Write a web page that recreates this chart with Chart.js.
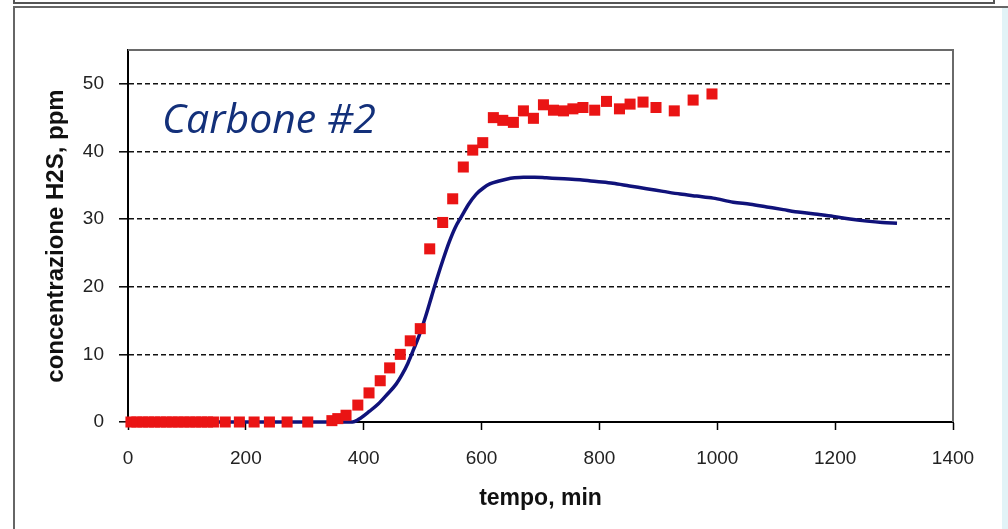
<!DOCTYPE html>
<html>
<head>
<meta charset="utf-8">
<script src="https://cdn.jsdelivr.net/npm/chart.js@4"></script>
<style>
  html,body{margin:0;padding:0;background:#fff;}
  #wrap{position:relative;width:1008px;height:529px;overflow:hidden;background:#fff;}
  .topbox{position:absolute;left:13px;top:-10px;width:978px;height:10px;border:2px solid #555;}
  .box{position:absolute;left:13px;top:6px;width:1000px;height:600px;border-left:2px solid #666;border-top:2px solid #666;}
  .strip{position:absolute;left:1002px;top:8px;width:6px;height:521px;background:#e2f3f7;}
  .label{position:absolute;left:162px;top:89px;line-height:1;font:italic 41px "Open Sans",sans-serif;color:#13307a;white-space:nowrap;}
  canvas{position:absolute;left:0;top:0;}
</style>
</head>
<body>
<div id="wrap">
  <div class="topbox"></div>
  <div class="box"></div>
  <div class="strip"></div>
  <canvas id="chart" width="1008" height="529"></canvas>
  <div class="label">Carbone #2</div>
</div>
<script>
// --- Data ---
// misure (quadrati rossi)
const tempoMisure = [5,15,25,35,45,55,65,75,85,95,105,115,125,135,145,
  165,189,214,240,270,305,346,356,370,390,409,428,444,462,479,496,
  512,534,551,569,585,602,620,636,654,671,688,705,722,739,755,772,
  792,812,834,852,874,896,927,959,991];
const h2sMisure = [0,0,0,0,0,0,0,0,0,0,0,0,0,0,0,
  0,0,0,0,0,0,0.2,0.5,1.0,2.5,4.3,6.1,8.0,10.0,12.0,13.8,
  25.6,29.5,33.0,37.7,40.2,41.3,45.0,44.6,44.3,46.0,44.9,46.9,46.1,46.0,46.3,46.5,
  46.1,47.4,46.3,47.0,47.3,46.5,46.0,47.6,48.5];
// modello (linea blu)
const tempoModello = [0,100,200,300,360,381,395,410,425,440,455,465,475,485,495,505,515,525,535,545,
  555,566,578,591,603,614,628,642,656,671,690,710,740,767,795,823,851,880,908,937,
  965,993,1027,1056,1084,1112,1141,1170,1197,1225,1254,1280,1305];
const h2sModello = [0,0,0,0,0,0,0.6,1.6,2.7,4.1,5.6,7.0,8.7,10.8,13.0,15.6,18.5,21.4,24.1,26.6,
  28.7,30.4,32.2,33.7,34.6,35.2,35.6,35.9,36.1,36.2,36.2,36.1,35.95,35.8,35.55,35.3,34.9,34.5,34.1,33.7,
  33.4,33.1,32.5,32.2,31.8,31.4,31.0,30.7,30.4,30.0,29.7,29.5,29.4];
const xTicks = [0,200,400,600,800,1000,1200,1400];
const yTicks = [0,10,20,30,40,50];

const font = 'Liberation Sans, Arial, sans-serif';

// bordo grigio sopra e a destra dell'area del grafico
const frame = {
  id: 'frame',
  beforeDatasetsDraw(chart) {
    const a = chart.chartArea, ctx = chart.ctx;
    ctx.save();
    ctx.strokeStyle = '#6a6a6a';
    ctx.lineWidth = 2;
    ctx.beginPath();
    ctx.moveTo(a.left, a.top);
    ctx.lineTo(a.right, a.top);
    ctx.lineTo(a.right, a.bottom);
    ctx.stroke();
    ctx.restore();
  }
};

new Chart(document.getElementById('chart').getContext('2d'), {
  type: 'scatter',
  data: {
    datasets: [
      {
        label: 'misure',
        data: tempoMisure.map((t, i) => ({x: t, y: h2sMisure[i]})),
        pointStyle: 'rect',
        pointRadius: 7.8,
        backgroundColor: '#ea1414',
        borderWidth: 0,
        showLine: false,
        clip: false
      },
      {
        label: 'modello',
        data: tempoModello.map((t, i) => ({x: t, y: h2sModello[i]})),
        showLine: true,
        pointRadius: 0,
        borderColor: '#10127a',
        borderWidth: 3.5,
        cubicInterpolationMode: 'monotone',
        clip: false
      }
    ]
  },
  options: {
    responsive: false,
    animation: false,
    layout: {padding: {top: 50, right: 55, left: 0, bottom: 0}},
    plugins: {legend: {display: false}, tooltip: {enabled: false}},
    scales: {
      x: {
        type: 'linear', min: 0, max: 1400,
        afterBuildTicks: s => { s.ticks = xTicks.map(v => ({value: v})); },
        afterFit: s => { s.height = 107; },
        grid: {drawOnChartArea: false, drawTicks: true, tickLength: 8, tickColor: '#000', tickWidth: 1.5},
        border: {color: '#000', width: 2},
        ticks: {font: {family: font, size: 19}, color: '#222', padding: 17, maxRotation: 0,
          callback: v => String(v)},
        title: {display: true, text: 'tempo, min', color: '#111',
          font: {family: font, size: 23, weight: 'bold'}, padding: {top: 0, bottom: 17}}
      },
      y: {
        min: 0, max: 55,
        afterBuildTicks: s => { s.ticks = yTicks.map(v => ({value: v})); },
        afterFit: s => { s.width = 128; },
        grid: {
          color: c => (c.tick && c.tick.value === 0) ? 'rgba(0,0,0,0)' : '#111',
          lineWidth: 1.6, tickLength: 9, tickColor: '#000', tickWidth: 1.5, tickBorderDash: []
        },
        border: {color: '#000', width: 2, dash: [5, 3]},
        ticks: {font: {family: font, size: 19}, color: '#222', padding: 15,
          callback: v => String(v)},
        title: {display: true, text: 'concentrazione H2S, ppm', color: '#111',
          font: {family: font, size: 24, weight: 'bold'}, padding: {top: 42, bottom: 0}}
      }
    }
  },
  plugins: [frame]
});
</script>
</body>
</html>
